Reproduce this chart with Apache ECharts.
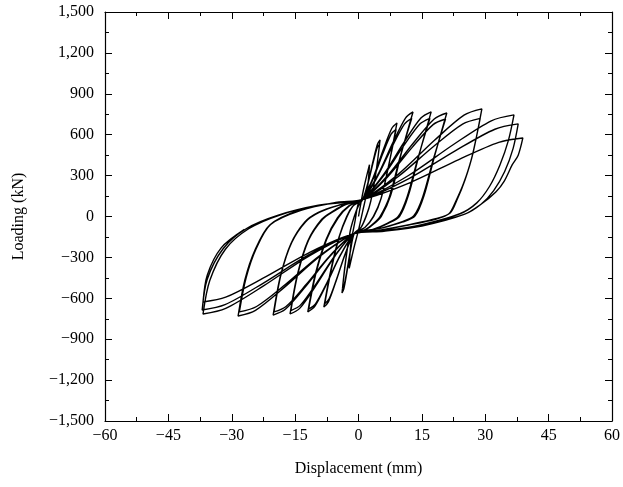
<!DOCTYPE html>
<html>
<head>
<meta charset="utf-8">
<script src="https://cdn.jsdelivr.net/npm/echarts@6/dist/echarts.min.js"></script>
<style>
  html, body { margin: 0; padding: 0; background: #fff; }
  #chart { width: 623px; height: 487px; }
</style>
</head>
<body>
<div id="chart"></div>
<script>
// displacement (mm), load (kN) pairs, one array per cycle
var loop1 = [[0, 0], [1.2, 200], [2.6, 380], [2.1, 200], [1, 40], [0, -100], [-1, -220], [-2.2, -380],
  [-1.8, -200], [-0.8, -30], [0, 100]];
var loop2a = [[1, 125], [2.23, 247], [3.46, 408], [4.49, 530], [5.1, 561], [4.2, 337], [2.9, 112], [1.8, 0], [0.6, -80],
  [-1, -125], [-1.87, -247], [-2.74, -408], [-3.47, -530], [-3.9, -561], [-3.1, -337], [-2, -112], [-1, 0], [0, 80]];
var loop2b = [[1, 125], [2.2, 238], [3.4, 388], [4.4, 502], [5, 530], [4.1, 318], [2.85, 106], [1.75, 0], [0.6, -80],
  [-1, -125], [-1.84, -238], [-2.68, -388], [-3.38, -502], [-3.8, -530], [-3, -318], [-1.95, -106], [-1, 0], [0, 80]];
var loop3a = [[1, 125], [3.43, 282], [5.86, 490], [7.89, 647], [9.1, 686], [7.4, 412], [5.4, 137], [3.6, 0], [1.5, -80],
  [-1, -125], [-3.16, -276], [-5.32, -475], [-7.12, -626], [-8.2, -664], [-6.6, -400], [-4.6, -150], [-2.8, 0], [-1.2, 80]];
var loop3b = [[1, 125], [3.37, 269], [5.74, 460], [7.72, 604], [8.9, 640], [7.2, 384], [5.3, 128], [3.5, 0], [1.5, -80],
  [-1, -125], [-3.1, -269], [-5.2, -460], [-6.95, -604], [-8, -640], [-6.4, -384], [-4.5, -144], [-2.7, 0], [-1.2, 80]];
var loop4a = [[1, 125], [4.57, 305], [8.14, 542], [11.12, 722], [12.9, 767], [10.1, 460], [7.6, 153], [5.4, 0], [3.8, -50], [1.8, -95],
  [-1, -125], [-4.3, -286], [-7.6, -499], [-10.35, -660], [-12, -700], [-10.2, -420], [-7.7, -170], [-5, -10], [-2.2, 80]];
var loop4b = [[1, 125], [4.48, 292], [7.96, 512], [10.86, 678], [12.6, 720], [9.8, 432], [7.3, 144], [5.1, 0], [3.6, -50], [1.7, -95],
  [-1, -125], [-4.24, -280], [-7.48, -486], [-10.18, -641], [-11.8, -680], [-10, -408], [-7.5, -165], [-4.8, -10], [-2.1, 80]];
var loop5a = [[1, 125], [5.86, 305], [10.72, 542], [14.77, 722], [17.2, 767], [14.4, 460], [11.8, 153], [9.7, 0], [7, -50], [3.5, -95],
  [-1, -125], [-5.56, -290], [-10.12, -509], [-13.92, -674], [-16.2, -715], [-14.5, -430], [-12, -180], [-8.7, -20], [-6, 40], [-3, 90]];
var loop5b = [[1, 125], [5.77, 292], [10.54, 512], [14.52, 678], [16.9, 720], [14.1, 432], [11.5, 144], [9.4, 0], [6.8, -50], [3.4, -95],
  [-1, -125], [-5.5, -283], [-10, -492], [-13.75, -650], [-16, -690], [-14.3, -414], [-11.8, -172], [-8.5, -20], [-5.8, 40], [-2.9, 90]];
var loop6a = [[1, 125], [6.97, 303], [12.94, 537], [17.92, 715], [20.9, 759], [18.1, 455], [15.5, 152], [13.4, 5], [10.5, -40], [5.5, -85],
  [-1, -125], [-6.76, -292], [-12.52, -514], [-17.32, -681], [-20.2, -723], [-18.5, -440], [-16, -200], [-12.7, -40], [-9.5, 30], [-5, 80]];
var loop6b = [[1, 125], [6.88, 290], [12.76, 509], [17.66, 674], [20.6, 715], [17.8, 429], [15.2, 143], [13.1, 5], [10.2, -40], [5.4, -85],
  [-1, -125], [-6.7, -286], [-12.4, -499], [-17.15, -660], [-20, -700], [-18.3, -420], [-15.8, -190], [-12.5, -38], [-9.3, 30], [-4.9, 80]];
var loop7a = [[1, 125], [9.46, 311], [17.92, 557], [24.97, 743], [29.2, 789], [27.1, 466], [25.2, 268], [23.3, 121], [21.7, 26],
  [18.5, -15], [12, -60], [5, -100],
  [-1, -125], [-9.25, -294], [-17.5, -518], [-24.38, -688], [-28.5, -730], [-26.9, -466], [-24.5, -246], [-21, -62], [-13.8, 48], [-5, 105]];
var loop7b = [[1, 125], [9.34, 292], [17.68, 512], [24.63, 678], [28.8, 720], [26.8, 430], [24.9, 245], [23, 110], [21.4, 20],
  [18.2, -20], [11.8, -62], [5, -100],
  [-1, -125], [-9.16, -286], [-17.32, -499], [-24.12, -660], [-28.2, -700], [-26.6, -450], [-24.2, -235], [-20.8, -58], [-13.6, 46], [-5, 104]];
var loop8a = [[1, 125], [11.74, 299], [22.48, 528], [31.43, 702], [36.8, 745], [35.5, 560], [33.5, 380], [31, 220], [28, 100],
  [24, 20], [15, -60], [6, -105],
  [-1, -125], [-11.74, -290], [-22.48, -509], [-31.43, -674], [-36.8, -715], [-35.2, -470], [-31.5, -240], [-26, -90], [-18.6, 11], [-9, 85]];
var loop8b = [[1, 125], [12.04, 280], [23.08, 485], [32.28, 640], [37.8, 679], [36.6, 500], [34.6, 330], [32, 190], [29, 90],
  [25, 15], [15, -65], [6, -107],
  [-1, -125], [-11.8, -282], [-22.6, -490], [-31.6, -647], [-37, -686], [-35.8, -460], [-32, -235], [-26.5, -88], [-19, 10], [-9.5, 83]];
var loop8c = [[1, 125], [12.37, 251], [23.74, 418], [33.2, 544], [38.9, 576], [37.8, 450], [36.4, 380], [34.5, 260], [32.5, 180],
  [29, 90], [25, 15], [15, -70], [6, -108],
  [-1, -125], [-11.74, -266], [-22.48, -451], [-31.43, -592], [-36.8, -627], [-35.8, -430], [-32.5, -230], [-27, -95]];

var xTicks = { min: -60, max: 60, interval: 15 };
var yTicks = { min: -1500, max: 1500, interval: 300 };

var curve = [].concat(loop1, loop2a, loop2b, loop3a, loop3b, loop4a, loop4b, loop5a, loop5b,
  loop6a, loop6b, loop7a, loop7b, loop8a, loop8b, loop8c);

var chart = echarts.init(document.getElementById('chart'));
var font = '"Liberation Serif", "Times New Roman", serif';

function fmt(v) {
  return (v < 0 ? '\u2212' : '') + Math.abs(v).toLocaleString('en-US');
}

var tickStyle = { show: true, inside: true, length: 7, lineStyle: { color: '#000', width: 1 } };
var minorStyle = { show: true, splitNumber: 2, length: 4, lineStyle: { color: '#000', width: 1 } };

function axisBase(t) {
  return {
    type: 'value', min: t.min, max: t.max, interval: t.interval,
    axisLine: { show: true, onZero: false, lineStyle: { color: '#000', width: 1.2 } },
    axisTick: tickStyle,
    minorTick: minorStyle,
    splitLine: { show: false }
  };
}

var xMain = axisBase(xTicks);
xMain.position = 'bottom';
xMain.name = 'Displacement (mm)';
xMain.nameLocation = 'middle';
xMain.nameGap = 40;
xMain.nameTextStyle = { fontFamily: font, fontSize: 16, color: '#000' };
xMain.axisLabel = { fontFamily: font, fontSize: 16, color: '#000', margin: 7, formatter: fmt };

var xTop = axisBase(xTicks);
xTop.position = 'top';
xTop.axisLabel = { show: false };

var yMain = axisBase(yTicks);
yMain.position = 'left';
yMain.name = 'Loading (kN)';
yMain.nameLocation = 'middle';
yMain.nameGap = 78;
yMain.nameTextStyle = { fontFamily: font, fontSize: 16, color: '#000' };
yMain.axisLabel = { fontFamily: font, fontSize: 16, color: '#000', margin: 11, formatter: fmt };

var yRight = axisBase(yTicks);
yRight.position = 'right';
yRight.axisLabel = { show: false };

chart.setOption({
  animation: false,
  grid: { left: 105, right: 11, top: 12, bottom: 66 },
  xAxis: [xMain, xTop],
  yAxis: [yMain, yRight],
  series: [{
    type: 'line',
    xAxisIndex: 0,
    yAxisIndex: 0,
    data: curve,
    showSymbol: false,
    smooth: 0.3,
    lineStyle: { color: '#000', width: 1.4 }
  }]
});
</script>
</body>
</html>
